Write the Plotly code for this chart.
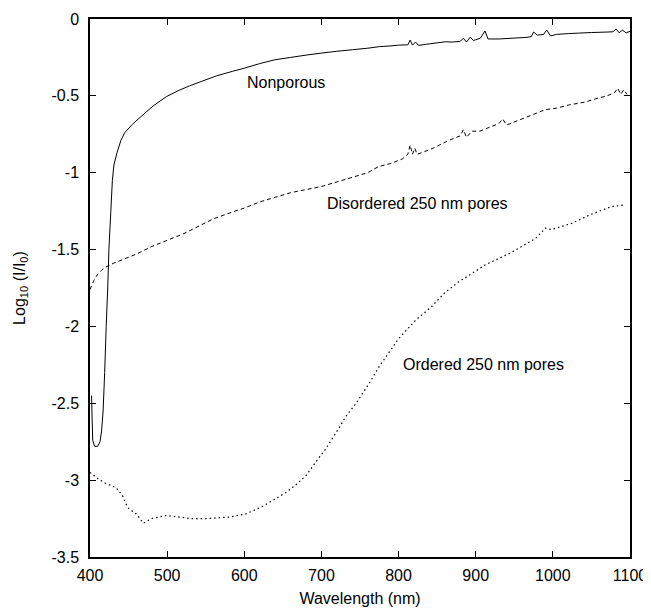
import plotly.graph_objs as go

# Nonporous (solid)
np_wl = [402, 403.5, 406, 410, 413, 415, 417, 419, 421, 423, 424.5, 427, 429, 431, 435,
         440, 445, 455, 465, 482, 499, 515, 529, 545, 564, 585, 600, 620, 640, 660,
         680, 700, 720, 740, 760, 775, 790, 800, 812, 815, 818, 822, 826, 835, 850,
         861, 870, 880, 884, 888, 893, 897, 900, 906, 912, 916, 930, 947, 965, 972,
         975, 980, 988, 992, 997, 1005, 1020, 1033, 1050, 1070, 1078, 1082, 1086,
         1090, 1095, 1100]
np_val = [-2.45, -2.74, -2.78, -2.78, -2.75, -2.68, -2.55, -2.3, -2.0, -1.75, -1.5, -1.25,
          -1.05, -0.95, -0.87, -0.79, -0.74, -0.685, -0.64, -0.565, -0.505, -0.465, -0.435,
          -0.405, -0.37, -0.34, -0.32, -0.29, -0.265, -0.25, -0.235, -0.222, -0.21,
          -0.20, -0.19, -0.18, -0.175, -0.17, -0.168, -0.137, -0.17, -0.15, -0.172,
          -0.165, -0.155, -0.148, -0.15, -0.145, -0.125, -0.15, -0.118, -0.14, -0.135,
          -0.125, -0.078, -0.13, -0.13, -0.125, -0.12, -0.115, -0.085, -0.105, -0.10,
          -0.072, -0.11, -0.10, -0.095, -0.092, -0.088, -0.085, -0.083, -0.065, -0.09,
          -0.072, -0.09, -0.08]

# Disordered 250 nm pores (dashed)
dis_wl = [400, 405, 410, 415, 420, 430, 445, 460, 480, 500, 520, 540, 560, 585, 600,
          620, 640, 660, 680, 700, 720, 740, 760, 774, 790, 805, 812, 815, 818, 821,
          824, 830, 845, 865, 880, 884, 888, 895, 905, 920, 930, 935, 940, 955, 965,
          975, 990, 1005, 1020, 1042, 1055, 1070, 1080, 1084, 1088, 1092, 1096]
dis_val = [-1.76, -1.70, -1.66, -1.635, -1.615, -1.59, -1.56, -1.53, -1.48, -1.44, -1.40,
           -1.35, -1.30, -1.255, -1.23, -1.19, -1.16, -1.13, -1.11, -1.09, -1.06, -1.03,
           -1.00, -0.96, -0.94, -0.91, -0.88, -0.82, -0.88, -0.84, -0.88, -0.87, -0.84,
           -0.79, -0.76, -0.72, -0.77, -0.73, -0.73, -0.70, -0.68, -0.65, -0.69, -0.66,
           -0.64, -0.62, -0.59, -0.58, -0.56, -0.54, -0.52, -0.50, -0.48, -0.45, -0.49,
           -0.46, -0.49]

# Ordered 250 nm pores (dotted)
ord_wl = [400, 405, 410, 420, 434, 442, 449, 460, 469, 480, 499, 516, 530, 550, 581,
          602, 624, 641, 654, 667, 680, 693, 705, 714, 723, 731, 745, 762, 775, 800,
          822, 843, 860, 878, 900, 912, 946, 977, 985, 990, 998, 1024, 1050, 1076, 1093]
ord_val = [-2.95, -2.97, -2.99, -3.02, -3.05, -3.10, -3.18, -3.22, -3.28, -3.25, -3.23,
           -3.24, -3.25, -3.25, -3.24, -3.22, -3.17, -3.12, -3.08, -3.03, -2.97, -2.88,
           -2.80, -2.73, -2.66, -2.59, -2.50, -2.37, -2.26, -2.08, -1.96, -1.87, -1.78,
           -1.71, -1.64, -1.60, -1.52, -1.43, -1.39, -1.36, -1.37, -1.33, -1.27, -1.22,
           -1.21]

x_ticks = [400, 500, 600, 700, 800, 900, 1000, 1100]
y_ticks = [0, -0.5, -1, -1.5, -2, -2.5, -3, -3.5]
y_tick_text = ["0", "-0.5", "-1", "-1.5", "-2", "-2.5", "-3", "-3.5"]

labels = ["Nonporous", "Disordered 250 nm pores", "Ordered 250 nm pores"]
label_x = [654, 824, 910]
label_y = [-0.41, -1.20, -2.25]

font = dict(family="Liberation Sans, Arial, sans-serif", size=16, color="black")

nonporous = go.Scatter(x=np_wl, y=np_val, mode="lines", name="Nonporous",
                       line=dict(color="black", width=1, simplify=False))
disordered = go.Scatter(x=dis_wl, y=dis_val, mode="lines", name="Disordered",
                        line=dict(color="black", width=1, dash="4px,3px", simplify=False))
ordered = go.Scatter(x=ord_wl, y=ord_val, mode="lines", name="Ordered",
                     line=dict(color="black", width=1.2, dash="1.5px,3px", simplify=False))

axis_style = dict(showgrid=False, zeroline=False, showline=True, linecolor="black",
                  linewidth=1.5, mirror="ticks", ticks="inside", ticklen=6,
                  tickcolor="black", tickwidth=1.2, tickfont=font)

# page body adds an 8px offset, so the figure is 8px smaller than the window
layout = go.Layout(
    width=643, height=601,
    margin=dict(l=82, r=21, t=11, b=52, autoexpand=False),
    paper_bgcolor="white", plot_bgcolor="white",
    showlegend=False,
    font=font,
    xaxis=dict(range=[400, 1100], tickvals=x_ticks, ticklabelstandoff=3,
               automargin=False,
               title=dict(text="Wavelength (nm)", font=font, standoff=10),
               **axis_style),
    yaxis=dict(range=[-3.5, 0], tickvals=y_ticks, ticktext=y_tick_text,
               ticklabelstandoff=6, automargin=False,
               title=dict(text="Log<sub>10</sub> (I/I<sub>0</sub>)", font=font, standoff=22),
               **axis_style),
    annotations=[dict(x=lx, y=ly, text=t, showarrow=False, font=font,
                      xanchor="center", yanchor="middle")
                 for t, lx, ly in zip(labels, label_x, label_y)],
)

fig = go.Figure(data=[nonporous, disordered, ordered], layout=layout)
fig.write_html("out.html")
